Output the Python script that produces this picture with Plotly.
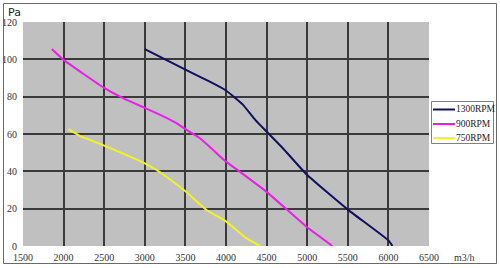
import plotly.graph_objects as go

# Data
flow_1300 = [3000, 3500, 3800, 4000, 4210, 4360, 4500, 4700, 5000, 5500, 6000, 6050]
pa_1300 = [105.5, 94.5, 88, 83.3, 75.6, 67.6, 61.3, 52.4, 38, 19.5, 3, 0]

flow_900 = [1855, 2000, 2500, 2750, 3000, 3190, 3390, 3500, 3680, 3840, 4000, 4170, 4500, 5000, 5310]
pa_900 = [105.5, 99.7, 84.7, 78.8, 74, 70.2, 65.8, 62.6, 57.7, 51.5, 45.2, 39.8, 29, 10, 0]

flow_750 = [2060, 2200, 2500, 3000, 3190, 3500, 3760, 4000, 4250, 4420]
pa_750 = [62.6, 59, 53.8, 44.3, 39.5, 29.3, 19.3, 13.2, 4.2, 0]

x_ticks = [1500, 2000, 2500, 3000, 3500, 4000, 4500, 5000, 5500, 6000, 6500]
y_ticks = [0, 20, 40, 60, 80, 100, 120]

series_names = ["1300RPM", "900RPM", "750RPM"]
series_colors = ["#10105e", "#e620e6", "#f2f227"]
series_x = [flow_1300, flow_900, flow_750]
series_y = [pa_1300, pa_900, pa_750]

W, H = 500, 268
# plot area in pixels
PL, PR, PT, PB = 23, 429, 22, 246

def px(xp):
    return xp / W

def py(yp):
    return 1 - yp / H

fig = go.Figure()
for name, xs, ys, color in zip(series_names, series_x, series_y, series_colors):
    fig.add_trace(go.Scatter(
        x=xs, y=ys, name=name, mode="lines", showlegend=False,
        line=dict(color=color, width=2, shape="spline", smoothing=0.4),
    ))

tick_font = dict(family="Liberation Serif", size=10, color="#333333")

shapes = [
    # outer frame
    dict(type="rect", xref="paper", yref="paper",
         x0=px(3.5), x1=px(496.5), y0=py(263.5), y1=py(3.5),
         fillcolor="rgba(0,0,0,0)", line=dict(color="#6a6a6a", width=1),
         layer="above"),
    # legend box
    dict(type="rect", xref="paper", yref="paper",
         x0=px(431.5), x1=px(493.5), y0=py(143.5), y1=py(101.5),
         fillcolor="white", line=dict(color="#808080", width=1), layer="above"),
]
annotations = [
    dict(text="Pa", xref="paper", yref="paper", x=px(6), y=py(12),
         xanchor="left", yanchor="middle", showarrow=False,
         font=dict(family="DejaVu Sans", size=11, color="#222222")),
    dict(text="m3/h", xref="paper", yref="paper", x=px(452), y=py(257),
         xanchor="left", yanchor="middle", showarrow=False,
         font=dict(family="Liberation Serif", size=10, color="#333333")),
]
legend_rows = [109.5, 124, 138]
for name, color, yrow in zip(series_names, series_colors, legend_rows):
    shapes.append(dict(type="line", xref="paper", yref="paper",
                       x0=px(433), x1=px(455), y0=py(yrow), y1=py(yrow),
                       line=dict(color=color, width=2), layer="above"))
    annotations.append(dict(text=name, xref="paper", yref="paper",
                            x=px(454), y=py(yrow), xanchor="left", yanchor="middle",
                            showarrow=False,
                            font=dict(family="Liberation Serif", size=9.5, color="#222222")))

fig.update_layout(
    width=W, height=H,
    margin=dict(l=0, r=0, t=0, b=0, pad=0, autoexpand=False),
    paper_bgcolor="white",
    plot_bgcolor="#c0c0c0",
    showlegend=False,
    xaxis=dict(
        domain=[PL / W, PR / W],
        range=[1500, 6500], tickvals=x_ticks, ticktext=[str(v) for v in x_ticks],
        showgrid=True, gridcolor="#3a3a3a", gridwidth=1.5, zeroline=False,
        showline=False, ticks="", tickfont=tick_font, ticklabelstandoff=4,
        fixedrange=True, automargin=False,
    ),
    yaxis=dict(
        domain=[1 - PB / H, 1 - PT / H],
        range=[0, 120], tickvals=y_ticks, ticktext=[str(v) for v in y_ticks],
        showgrid=True, gridcolor="#3a3a3a", gridwidth=1.5, zeroline=False,
        showline=False, ticks="", tickfont=tick_font, ticklabelstandoff=5,
        fixedrange=True, automargin=False,
    ),
    shapes=shapes,
    annotations=annotations,
)

fig.write_html("out.html")
